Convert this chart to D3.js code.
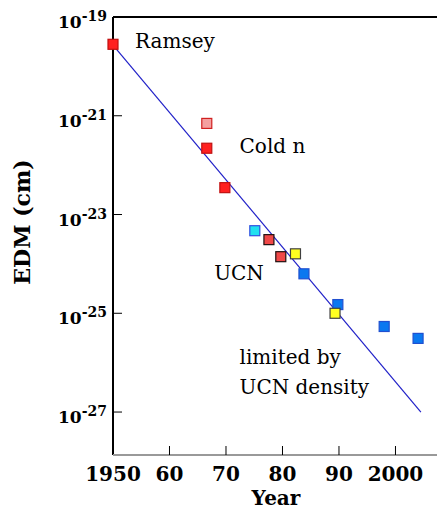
<!DOCTYPE html>
<html lang="en">
<head>
  <meta charset="UTF-8">
  <title>Neutron EDM limits</title>
  <script src="https://d3js.org/d3.v7.min.js"></script>
  <style>
    body { margin: 0; background: #fff; }
    svg { display: block; }
  </style>
</head>
<body>

<svg width="437" height="510"></svg>

<script>
  // measurements: year, EDM limit (cm), fill, border
  const years  = [1950,   1966.6, 1966.6, 1969.8, 1975.1, 1977.6, 1979.7, 1982.3, 1983.8, 1989.8, 1989.3, 1998.0, 2004.0];
  const edm    = [2.8e-20, 7e-22, 2.2e-22, 3.5e-23, 4.7e-24, 3.1e-24, 1.4e-24, 1.6e-24, 6.3e-25, 1.5e-25, 1.0e-25, 5.4e-26, 3.1e-26];
  const fills  = ["#ff2020", "#f4a0a0", "#ff2020", "#ff2020", "#20e0f0", "#f04848", "#f04848", "#ffff20", "#0a78f0", "#0a78f0", "#ffff20", "#0a78f0", "#0a78f0"];
  const strokes = ["#c01010", "#d02020", "#c01010", "#c01010", "#3050e0", "#201010", "#201010", "#404040", "#2050d0", "#2050d0", "#404040", "#2050d0", "#2050d0"];

  // trend line
  const fitYears = [1950, 2004.5];
  const fitEdm = [Math.pow(10, -19.57), 1e-27];

  const xTicks = [1950, 1960, 1970, 1980, 1990, 2000];
  const xTickLabels = ["1950", "60", "70", "80", "90", "2000"];
  const yExponents = [-19, -21, -23, -25, -27];

  const notes = [
    { text: "Ramsey", year: 1953.9, value: Math.pow(10, -19.63) },
    { text: "Cold n", year: 1972.4, value: Math.pow(10, -21.75) },
    { text: "UCN", year: 1967.9, value: Math.pow(10, -24.33) },
    { text: "limited by", year: 1972.4, value: Math.pow(10, -26.02) },
    { text: "UCN density", year: 1972.4, value: Math.pow(10, -26.63) }
  ];

  const serif = "'DejaVu Serif', serif";

  const svg = d3.select("svg")
    .attr("font-family", serif);
  const m = { left: 113, right: 437, top: 17, bottom: 455 };

  const x = d3.scaleLinear()
    .domain([1950, 2007.35])
    .range([m.left, m.right]);

  const y = d3.scaleLog()
    .domain([1e-19, Math.pow(10, -27.87)])
    .range([m.top, m.bottom]);

  // frame: top line, left axis, bottom axis
  svg.append("line")
    .attr("x1", m.left).attr("x2", m.right)
    .attr("y1", m.top).attr("y2", m.top)
    .attr("stroke", "#000").attr("stroke-width", 2);

  svg.append("line")
    .attr("x1", m.left).attr("x2", m.left)
    .attr("y1", m.top).attr("y2", m.bottom)
    .attr("stroke", "#000").attr("stroke-width", 2);

  svg.append("line")
    .attr("x1", m.left).attr("x2", m.right)
    .attr("y1", m.bottom).attr("y2", m.bottom)
    .attr("stroke", "#999").attr("stroke-width", 2);

  // x ticks
  const xg = svg.append("g");
  xg.selectAll("line")
    .data(xTicks.slice(1))
    .enter().append("line")
    .attr("x1", d => x(d)).attr("x2", d => x(d))
    .attr("y1", m.bottom).attr("y2", m.bottom - 9)
    .attr("stroke", "#000").attr("stroke-width", 1);

  xg.selectAll("text")
    .data(xTicks)
    .enter().append("text")
    .attr("font-weight", "bold")
    .attr("x", d => x(d))
    .attr("y", 481)
    .attr("text-anchor", "middle")
    .attr("font-size", 20)
    .text((d, i) => xTickLabels[i]);

  // y ticks
  const yg = svg.append("g");
  yg.selectAll("line")
    .data(yExponents.slice(1))
    .enter().append("line")
    .attr("x1", m.left).attr("x2", m.left + 9)
    .attr("y1", d => y(Math.pow(10, d))).attr("y2", d => y(Math.pow(10, d)))
    .attr("stroke", "#000").attr("stroke-width", 1);

  const yl = yg.selectAll("text")
    .data(yExponents)
    .enter().append("text")
    .attr("font-weight", "bold")
    .attr("x", 107)
    .attr("y", d => y(Math.pow(10, d)) + 11)
    .attr("text-anchor", "end")
    .attr("font-size", 17);
  yl.append("tspan").text("10");
  yl.append("tspan")
    .attr("font-size", 14)
    .attr("dy", -7)
    .text(d => "-" + Math.abs(d));

  // axis titles
  svg.append("text")
    .attr("font-weight", "bold")
    .attr("transform", "translate(30,222) rotate(-90)")
    .attr("text-anchor", "middle")
    .attr("font-size", 22)
    .text("EDM (cm)");

  svg.append("text")
    .attr("font-weight", "bold")
    .attr("x", 276)
    .attr("y", 505)
    .attr("text-anchor", "middle")
    .attr("font-size", 20)
    .text("Year");

  // trend line
  const line = d3.line()
    .x(d => x(d[0]))
    .y(d => y(d[1]));

  svg.append("path")
    .datum(fitYears.map((d, i) => [d, fitEdm[i]]))
    .attr("d", line)
    .attr("fill", "none")
    .attr("stroke", "#2020c8")
    .attr("stroke-width", 1.2);

  // markers
  const s = 10;
  svg.selectAll("rect.pt")
    .data(years)
    .enter().append("rect")
    .attr("class", "pt")
    .attr("x", d => x(d) - s / 2)
    .attr("y", (d, i) => y(edm[i]) - s / 2)
    .attr("width", s).attr("height", s)
    .attr("fill", (d, i) => fills[i])
    .attr("stroke", (d, i) => strokes[i])
    .attr("stroke-width", 1.2);

  // annotations
  svg.selectAll("text.note")
    .data(notes)
    .enter().append("text")
    .attr("class", "note")
    .attr("font-size", 20)
    .attr("x", d => x(d.year))
    .attr("y", d => y(d.value))
    .text(d => d.text);
</script>

</body>
</html>
